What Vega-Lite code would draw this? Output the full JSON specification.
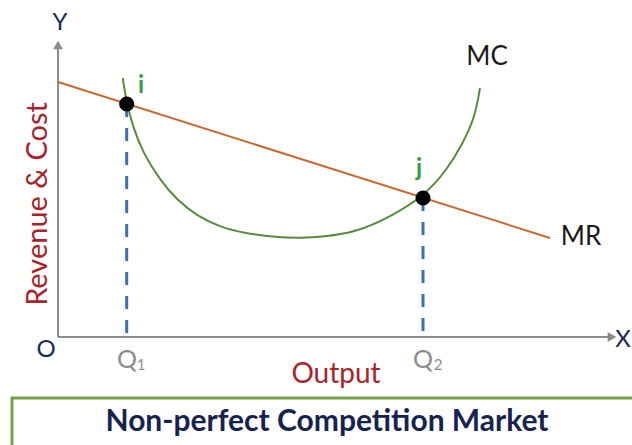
{
  "$schema": "https://vega.github.io/schema/vega-lite/v6.json",
  "width": 632,
  "height": 445,
  "padding": 0,
  "autosize": {"type": "none"},
  "background": "white",
  "config": {"view": {"stroke": null}, "axis": {"disable": true}, "text": {"font": "Lato", "baseline": "alphabetic"}},
  "datasets": {
    "mr": [{"q": 0, "v": 25.5}, {"q": 49.2, "v": 9.9}],
    "mc": [
      {"q": 6.47, "v": 25.9}, {"q": 6.87, "v": 23.4}, {"q": 7.5, "v": 21.0}, {"q": 8.5, "v": 18.4},
      {"q": 10.2, "v": 15.7}, {"q": 11.9, "v": 13.7}, {"q": 13.9, "v": 12.1}, {"q": 16.2, "v": 11.0},
      {"q": 18.5, "v": 10.4}, {"q": 21.9, "v": 9.95}, {"q": 24.2, "v": 9.9}, {"q": 26.5, "v": 10.0},
      {"q": 29.9, "v": 10.5}, {"q": 33.2, "v": 12.0}, {"q": 36.5, "v": 14.0}, {"q": 38.9, "v": 16.7},
      {"q": 40.5, "v": 19.4}, {"q": 41.7, "v": 22.0}, {"q": 42.2, "v": 24.9}
    ],
    "eq": [{"q": 6.87, "v": 23.3, "name": "i"}, {"q": 36.5, "v": 13.9, "name": "j"}]
  },
  "layer": [
    {
      "data": {"values": [{"x1": -4.6, "x2": 58.6, "y1": -6.1, "y2": -12.5}]},
      "mark": {"type": "rect", "fill": "white", "stroke": "#76a04a", "strokeWidth": 3, "clip": true},
      "encoding": {
        "x": {"field": "x1", "type": "quantitative", "scale": {"domain": [-5.8, 57.4], "nice": false, "zero": false}},
        "x2": {"field": "x2"},
        "y": {"field": "y1", "type": "quantitative", "scale": {"domain": [-10.8, 33.7], "nice": false, "zero": false}},
        "y2": {"field": "y2"}
      }
    },
    {
      "data": {"values": [{"x1": 0, "y1": 0, "x2": 0, "y2": 28.9}, {"x1": 0, "y1": 0, "x2": 55.2, "y2": 0}]},
      "mark": {"type": "rule", "color": "#8c8c8c", "strokeWidth": 2},
      "encoding": {
        "x": {"field": "x1", "type": "quantitative"},
        "x2": {"field": "x2"},
        "y": {"field": "y1", "type": "quantitative"},
        "y2": {"field": "y2"}
      }
    },
    {
      "data": {"values": [{"x": 0, "y": 29.2}]},
      "mark": {"type": "point", "shape": "triangle-up", "filled": true, "color": "#8c8c8c", "size": 100, "opacity": 1},
      "encoding": {"x": {"field": "x", "type": "quantitative"}, "y": {"field": "y", "type": "quantitative"}}
    },
    {
      "data": {"values": [{"x": 55.4, "y": 0}]},
      "mark": {"type": "point", "shape": "triangle-right", "filled": true, "color": "#8c8c8c", "size": 100, "opacity": 1},
      "encoding": {"x": {"field": "x", "type": "quantitative"}, "y": {"field": "y", "type": "quantitative"}}
    },
    {
      "data": {"name": "eq"},
      "mark": {"type": "rule", "color": "#3f6fb0", "strokeWidth": 3, "strokeDash": [13, 11]},
      "encoding": {
        "x": {"field": "q", "type": "quantitative"},
        "y": {"field": "v", "type": "quantitative"},
        "y2": {"datum": 0}
      }
    },
    {
      "data": {"name": "mr"},
      "mark": {"type": "line", "color": "#c9682e", "strokeWidth": 2},
      "encoding": {"x": {"field": "q", "type": "quantitative"}, "y": {"field": "v", "type": "quantitative"}}
    },
    {
      "data": {"name": "mc"},
      "mark": {"type": "line", "color": "#5a8a3c", "strokeWidth": 2, "interpolate": "basis"},
      "encoding": {"x": {"field": "q", "type": "quantitative"}, "y": {"field": "v", "type": "quantitative"}}
    },
    {
      "data": {"name": "eq"},
      "mark": {"type": "circle", "color": "black", "size": 230, "opacity": 1},
      "encoding": {"x": {"field": "q", "type": "quantitative"}, "y": {"field": "v", "type": "quantitative"}}
    },
    {
      "data": {"values": [{"x": 8.3, "y": 24.4, "t": "i"}, {"x": 36.1, "y": 16.1, "t": "j"}]},
      "mark": {"type": "text", "color": "#2e9e4a", "fontSize": 24, "fontWeight": "bold"},
      "encoding": {"x": {"field": "x", "type": "quantitative"}, "y": {"field": "y", "type": "quantitative"}, "text": {"field": "t"}}
    },
    {
      "data": {"values": [{"x": 42.9, "y": 27.2, "t": "MC"}, {"x": 52.3, "y": 9.2, "t": "MR"}]},
      "mark": {"type": "text", "color": "#1a1a1a", "fontSize": 26},
      "encoding": {"x": {"field": "x", "type": "quantitative"}, "y": {"field": "y", "type": "quantitative"}, "text": {"field": "t"}}
    },
    {
      "data": {"values": [{"x": 0.2, "y": 30.7, "t": "Y"}, {"x": 56.5, "y": -1.0, "t": "X"}, {"x": -1.2, "y": -2.0, "t": "O"}]},
      "mark": {"type": "text", "color": "#1c2a5a", "fontSize": 24},
      "encoding": {"x": {"field": "x", "type": "quantitative"}, "y": {"field": "y", "type": "quantitative"}, "text": {"field": "t"}}
    },
    {
      "data": {"values": [{"x": 6.9, "y": -3.1, "t": "Q"}, {"x": 36.5, "y": -3.1, "t": "Q"}]},
      "mark": {"type": "text", "color": "#8c8c8c", "fontSize": 25},
      "encoding": {"x": {"field": "x", "type": "quantitative"}, "y": {"field": "y", "type": "quantitative"}, "text": {"field": "t"}}
    },
    {
      "data": {"values": [{"x": 8.3, "y": -3.3, "t": "1"}, {"x": 38.0, "y": -3.3, "t": "2"}]},
      "mark": {"type": "text", "color": "#8c8c8c", "fontSize": 15},
      "encoding": {"x": {"field": "x", "type": "quantitative"}, "y": {"field": "y", "type": "quantitative"}, "text": {"field": "t"}}
    },
    {
      "data": {"values": [{"x": 27.8, "y": -4.6, "t": "Output"}]},
      "mark": {"type": "text", "color": "#a8232a", "fontSize": 28},
      "encoding": {"x": {"field": "x", "type": "quantitative"}, "y": {"field": "y", "type": "quantitative"}, "text": {"field": "t"}}
    },
    {
      "data": {"values": [{"x": -2.0, "y": 13.3, "t": "Revenue & Cost"}]},
      "mark": {"type": "text", "color": "#a8232a", "fontSize": 29, "angle": 270, "baseline": "middle"},
      "encoding": {"x": {"field": "x", "type": "quantitative"}, "y": {"field": "y", "type": "quantitative"}, "text": {"field": "t"}}
    },
    {
      "data": {"values": [{"x": 26.9, "y": -9.4, "t": "Non-perfect Competition Market"}]},
      "mark": {"type": "text", "color": "#17234f", "fontSize": 30, "fontWeight": "bold"},
      "encoding": {"x": {"field": "x", "type": "quantitative"}, "y": {"field": "y", "type": "quantitative"}, "text": {"field": "t"}}
    }
  ]
}
